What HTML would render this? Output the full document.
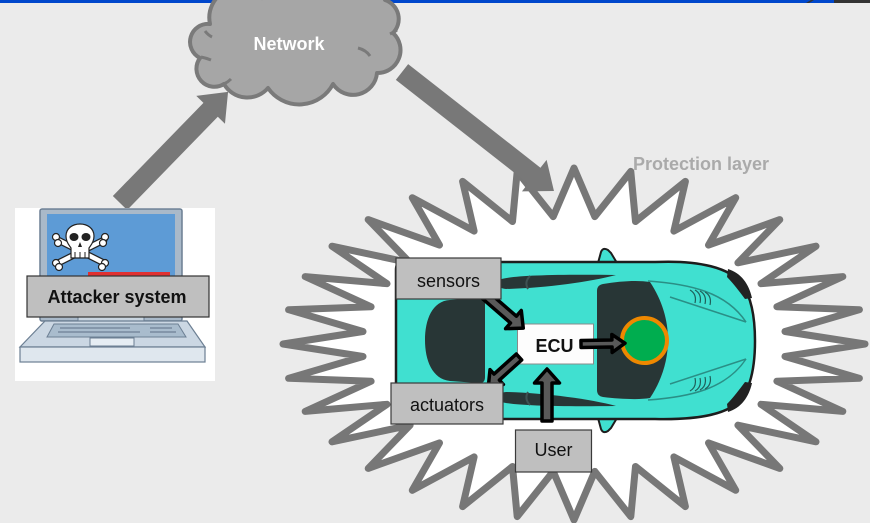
<!DOCTYPE html>
<html>
<head>
<meta charset="utf-8">
<style>
  html,body{margin:0;padding:0;background:#ebebeb;}
  body{width:870px;height:523px;overflow:hidden;}
  svg{display:block;}
  text{font-family:"Liberation Sans", Arial, sans-serif;}
</style>
</head>
<body>
<svg width="870" height="523" viewBox="0 0 870 523" xmlns="http://www.w3.org/2000/svg">
  <!-- background -->
  <rect x="0" y="0" width="870" height="523" fill="#ebebeb"/>
  <!-- top bar -->
  <rect x="0" y="0" width="834" height="3" fill="#0047CC"/>
  <polygon points="806,3 809,3 814,0 811,0" fill="#333"/>
  <rect x="834" y="0" width="36" height="3" fill="#333"/>

  <!-- Starburst protection layer -->
  <polygon fill="#ffffff" stroke="#777777" stroke-width="7" stroke-linejoin="round" points="
865,344 785.0,331.5 859.4,309.7 776.9,306.8 842.8,276.6 761.0,283.7 816.0,246.2 737.9,262.8
779.8,219.6 708.5,245.1 735.7,197.7 673.9,231.1 685.4,181.4 635.5,221.5 630.8,171.4 594.8,216.6
574,168 553.2,216.6 517.2,171.4 512.5,221.5 462.6,181.4 474.1,231.1 412.3,197.7 439.5,245.1
368.2,219.6 410.1,262.8 332.0,246.2 387.0,283.7 305.2,276.6 371.1,306.8 288.6,309.7 363.0,331.5
283,344 363.0,356.5 288.6,378.3 371.1,381.2 305.2,411.4 387.0,404.3 332.0,441.8 410.1,425.2
368.2,468.4 439.5,442.9 412.3,490.3 474.1,456.9 462.6,506.6 512.5,466.5 517.2,516.6 553.2,471.4
574,520 594.8,471.4 630.8,516.6 635.5,466.5 685.4,506.6 673.9,456.9 735.7,490.3 708.5,442.9
779.8,468.4 737.9,425.2 816.0,441.8 761.0,404.3 842.8,411.4 776.9,381.2 859.4,378.3 785.0,356.5"/>

  <text x="633" y="170" font-size="18" font-weight="bold" fill="#aaaaaa">Protection layer</text>

  <!-- Big gray arrows -->
  <g fill="#787878">
    <polygon transform="translate(120,203) rotate(-45.8)" points="0,-10 130,-10 130,-20 155,0 130,20 130,10 0,10"/>
    <polygon transform="translate(402,72) rotate(38.06)" points="0,-10 168,-10 168,-20 193,0 168,20 168,10 0,10"/>
  </g>

  <!-- Cloud -->
  <path d="M200,58 A18,18 0 0 1 210,24 A30,30 0 0 1 262,-2 A20,20 0 0 1 300,-2 A45,45 0 0 1 385,0 A20,20 0 0 1 393,33 A23,23 0 0 1 377,73 A24,24 0 0 1 333,84 A38,38 0 0 1 268,88 A27,27 0 0 1 224,84 A18,18 0 0 1 200,58 Z"
        fill="#A6A6A6" stroke="#7a7a7a" stroke-width="4" stroke-linejoin="round"/>
  <g fill="none" stroke="#7a7a7a" stroke-width="3">
    <path d="M205,31 Q208,35 212,37"/>
    <path d="M201,57 Q206,58 211,60"/>
    <path d="M224,84 Q228,82 231,79"/>
    <path d="M358,48 Q366,50 370,56"/>
    <path d="M390,34 Q394,32 397,30"/>
  </g>
  <text x="289" y="50" font-size="18" font-weight="bold" fill="#ffffff" text-anchor="middle">Network</text>

  <!-- Laptop -->
  <rect x="15" y="208" width="200" height="173" fill="#ffffff"/>
  <rect x="40" y="209" width="142" height="112" rx="2" fill="#a9b9c9" stroke="#6c7f93" stroke-width="1.5"/>
  <rect x="47" y="214" width="128" height="100" fill="#5d9bd6"/>
  <rect x="88" y="272" width="82" height="6" fill="#e03030"/>
  <!-- skull & crossbones -->
  <g stroke="#222" stroke-width="1.2">
    <line x1="58" y1="240" x2="104" y2="263" stroke="#222" stroke-width="7" stroke-linecap="round"/>
    <line x1="58" y1="263" x2="104" y2="240" stroke="#222" stroke-width="7" stroke-linecap="round"/>
    <line x1="58" y1="240" x2="104" y2="263" stroke="#fff" stroke-width="4.5" stroke-linecap="round"/>
    <line x1="58" y1="263" x2="104" y2="240" stroke="#fff" stroke-width="4.5" stroke-linecap="round"/>
    <circle cx="56" cy="237" r="3.5" fill="#fff"/>
    <circle cx="58" cy="243" r="3.5" fill="#fff"/>
    <circle cx="105" cy="237" r="3.5" fill="#fff"/>
    <circle cx="103" cy="243" r="3.5" fill="#fff"/>
    <circle cx="56" cy="263" r="3.5" fill="#fff"/>
    <circle cx="59" cy="267" r="3.5" fill="#fff"/>
    <circle cx="105" cy="263" r="3.5" fill="#fff"/>
    <circle cx="102" cy="267" r="3.5" fill="#fff"/>
    <path d="M66,236 C66,220 94,220 94,236 C94,243 90,246 89,248 L89,258 L71,258 L71,248 C70,246 66,243 66,236 Z" fill="#fff"/>
  </g>
  <ellipse cx="74" cy="237" rx="4.5" ry="4" fill="#222"/>
  <ellipse cx="86" cy="237" rx="4.5" ry="4" fill="#222"/>
  <path d="M80,242 L78,247 L82,247 Z" fill="#222"/>
  <g stroke="#222" stroke-width="1">
    <line x1="75" y1="252" x2="75" y2="258"/>
    <line x1="80" y1="252" x2="80" y2="258"/>
    <line x1="85" y1="252" x2="85" y2="258"/>
  </g>
  <!-- hinge & base -->
  <rect x="78" y="316" width="66" height="6" fill="#c9d5e0" stroke="#6c7f93" stroke-width="1"/>
  <polygon points="45,321 187,321 205,347 20,347" fill="#cbd7e3" stroke="#6c7f93" stroke-width="1.2"/>
  <polygon points="54,324 178,324 186,337 47,337" fill="#a9bccd" stroke="#6c7f93" stroke-width="1"/>
  <g stroke="#5e7186" stroke-width="1">
    <line x1="60" y1="328" x2="130" y2="328"/>
    <line x1="58" y1="332" x2="140" y2="332"/>
    <line x1="150" y1="328" x2="172" y2="328"/>
    <line x1="150" y1="332" x2="176" y2="332"/>
  </g>
  <rect x="90" y="338" width="44" height="8" fill="#e6edf3" stroke="#6c7f93" stroke-width="1"/>
  <rect x="20" y="347" width="185" height="15" fill="#dfe7ee" stroke="#6c7f93" stroke-width="1.2"/>

  <!-- Attacker system label -->
  <rect x="27" y="276" width="182" height="41" fill="#BFBFBF" stroke="#333" stroke-width="1.2"/>
  <text x="117" y="303" font-size="18" font-weight="bold" fill="#111" text-anchor="middle">Attacker system</text>

  <!-- Car -->
  <path d="M598,263 L601,252 Q603,247 608,250 L611,253 L617,263 Z" fill="#40E0D0" stroke="#1d1d1d" stroke-width="2"/>
  <path d="M598,418 L601,429 Q603,434 608,431 L611,428 L617,418 Z" fill="#40E0D0" stroke="#1d1d1d" stroke-width="2"/>
  <path d="M402,262 L655,262 C700,260 730,268 742,284 C752,298 755,320 755,341 C755,362 752,384 742,398 C730,414 700,420 655,419 L402,419 Q396,419 396,412 L396,270 Q396,262 402,262 Z" fill="#40E0D0" stroke="#1d1d1d" stroke-width="2.5"/>
  <!-- headlights -->
  <path d="M728,269 C741,273 749,284 752,298 L745,299 C739,291 733,283 727,277 Z" fill="#222"/>
  <path d="M728,412 C741,408 749,397 752,383 L745,382 C739,390 733,398 727,404 Z" fill="#222"/>
  <!-- side strips -->
  <path d="M498,281 C500,276 545,274 616,275 C590,282 545,288 506,289 Q498,288 498,284 Z" fill="#283636"/>
  <path d="M498,400 C500,405 545,407 616,406 C590,399 545,393 506,392 Q498,393 498,397 Z" fill="#283636"/>
  <path d="M530,276 Q524,282 528,289" fill="none" stroke="#3e5252" stroke-width="2"/>
  <path d="M530,405 Q524,399 528,392" fill="none" stroke="#3e5252" stroke-width="2"/>
  <!-- rear window -->
  <path d="M485,304 L485,377 Q485,384 478,383 L450,381 C432,379 425,360 425,340 C425,320 432,301 450,300 L478,298 Q485,297 485,304 Z" fill="#283636"/>
  <!-- windshield -->
  <path d="M603,284 C620,281 638,280 650,282 C662,300 668,320 668,340 C668,360 662,380 650,398 C638,400 620,399 603,397 Q597,396 597,390 L597,291 Q597,285 603,284 Z" fill="#283636"/>
  <!-- hood lines -->
  <g fill="none" stroke="#2a8f86" stroke-width="1.5">
    <path d="M648,281 C690,284 726,292 746,322"/>
    <path d="M670,297 L746,322"/>
    <path d="M648,400 C690,397 726,389 746,359"/>
    <path d="M670,384 L746,359"/>
  </g>
  <g fill="none" stroke="#1f5f5a" stroke-width="1.2">
    <path d="M690,290 q7,4 5,13"/><path d="M695,290 q7,4 5,13"/><path d="M700,291 q7,4 5,13"/><path d="M705,292 q7,4 5,13"/>
    <path d="M690,391 q7,-4 5,-13"/><path d="M695,391 q7,-4 5,-13"/><path d="M700,390 q7,-4 5,-13"/><path d="M705,389 q7,-4 5,-13"/>
  </g>
  <!-- green circle -->
  <circle cx="644.5" cy="340.5" r="22.5" fill="#00AD4F" stroke="#EE8800" stroke-width="4"/>

  <!-- ECU -->
  <rect x="517.5" y="324" width="76" height="40" fill="#fdfdfd" stroke="#8a8a8a" stroke-width="1"/>
  <text x="554.5" y="352" font-size="18" font-weight="bold" fill="#111" text-anchor="middle">ECU</text>

  <!-- small arrows -->
  <g fill="#595959" stroke="#000" stroke-width="3.5" stroke-linejoin="round">
    <polygon transform="translate(484,294) rotate(41)" points="0,-4.5 39,-4.5 39,-12 52,0 39,12 39,4.5 0,4.5"/>
    <polygon transform="translate(519,357) rotate(138)" points="0,-4 30,-4 30,-10 41,0 30,10 30,4 0,4"/>
    <polygon transform="translate(547,421) rotate(-90)" points="0,-5 38,-5 38,-12.5 52,0 38,12.5 38,5 0,5"/>
    <polygon transform="translate(581,344) rotate(-1)" points="0,-3.5 31,-3.5 31,-9 44,0 31,9 31,3.5 0,3.5"/>
  </g>

  <!-- labels -->
  <rect x="396" y="258" width="105" height="41" fill="#BFBFBF" stroke="#3a3a3a" stroke-width="1.2"/>
  <text x="448.5" y="287" font-size="18" fill="#111" text-anchor="middle">sensors</text>
  <rect x="391" y="383" width="112" height="41" fill="#BFBFBF" stroke="#3a3a3a" stroke-width="1.2"/>
  <text x="447" y="411" font-size="18" fill="#111" text-anchor="middle">actuators</text>
  <rect x="515.5" y="430" width="76" height="42" fill="#BFBFBF" stroke="#3a3a3a" stroke-width="1.2"/>
  <text x="553.5" y="456" font-size="18" fill="#111" text-anchor="middle">User</text>
</svg>
</body>
</html>
